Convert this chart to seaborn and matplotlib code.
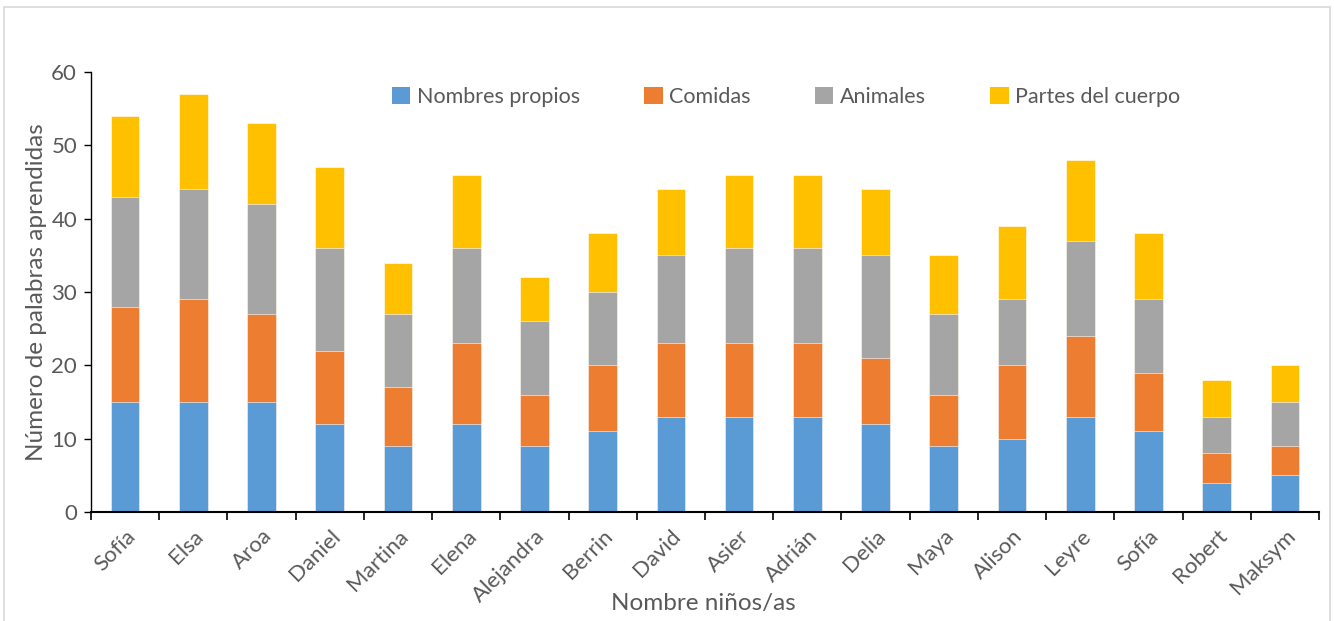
import matplotlib
matplotlib.use("Agg")
import matplotlib.pyplot as plt
from matplotlib.patches import Rectangle, Patch
import numpy as np
import pandas as pd
import seaborn as sns

ninos = ["Sofía", "Elsa", "Aroa", "Daniel", "Martina", "Elena", "Alejandra",
         "Berrin", "David", "Asier", "Adrián", "Delia", "Maya", "Alison",
         "Leyre", "Sofía ", "Robert", "Maksym"]
nombres_propios = [15, 15, 15, 12, 9, 12, 9, 11, 13, 13, 13, 12, 9, 10, 13, 11, 4, 5]
comidas = [13, 14, 12, 10, 8, 11, 7, 9, 10, 10, 10, 9, 7, 10, 11, 8, 4, 4]
animales = [15, 15, 15, 14, 10, 13, 10, 10, 12, 13, 13, 14, 11, 9, 13, 10, 5, 6]
partes_cuerpo = [11, 13, 11, 11, 7, 10, 6, 8, 9, 10, 10, 9, 8, 10, 11, 9, 5, 5]

series = ["Nombres propios", "Comidas", "Animales", "Partes del cuerpo"]
colores = ["#5B9BD5", "#ED7D31", "#A5A5A5", "#FFC000"]
valores = [nombres_propios, comidas, animales, partes_cuerpo]

sns.set_theme(style="white")
plt.rcParams["font.family"] = ["Lato", "DejaVu Sans"]
texto = "#595959"

fig = plt.figure(figsize=(13.34, 6.21), dpi=100)
ax = fig.add_axes([91 / 1334, 1 - 512 / 621, 1228 / 1334, 440 / 621])

# stacked bars: draw cumulative totals from the top segment down
acumulado = np.cumsum(np.array(valores), axis=0)
for i in range(len(series) - 1, -1, -1):
    df = pd.DataFrame({"nino": ninos, "total": acumulado[i]})
    sns.barplot(data=df, x="nino", y="total", color=colores[i], width=0.42,
                saturation=1, edgecolor="white", linewidth=0.4, ax=ax)

ax.set_xlim(-0.5, len(ninos) - 0.5)
ax.set_ylim(0, 60)
ax.set_yticks(range(0, 61, 10))
ax.tick_params(axis="y", labelsize=16, labelcolor=texto, length=5, width=1,
               direction="out", left=True, pad=5, color="black")
ax.set_xticks(range(len(ninos)))
ax.set_xticklabels([n.strip() for n in ninos], rotation=45, ha="right",
                   rotation_mode="anchor", fontsize=16, color=texto)
ax.tick_params(axis="x", which="major", length=0, pad=10)
ax.set_xticks(np.arange(-0.5, len(ninos), 1), minor=True)
ax.tick_params(axis="x", which="minor", length=6, width=1.2, color="black",
               direction="out", bottom=True)

for s in ["top", "right"]:
    ax.spines[s].set_visible(False)
ax.spines["left"].set_color("black")
ax.spines["left"].set_linewidth(1)
ax.spines["bottom"].set_color("black")
ax.spines["bottom"].set_linewidth(1.5)

ax.set_xlabel("Nombre niños/as", fontsize=17.5, color=texto)
ax.xaxis.set_label_coords(0.499, -81 / 440, transform=ax.transAxes)
ax.set_ylabel("Número de palabras aprendidas", fontsize=17.5, color=texto)
ax.yaxis.set_label_coords(-44 / 1228, 0.5, transform=ax.transAxes)

handles = [Patch(facecolor=c, edgecolor="none") for c in colores]
ax.legend(handles, series, loc="center", bbox_to_anchor=(0.566, 0.943), ncol=4,
          frameon=False, fontsize=15.5, handlelength=0.85, handleheight=0.85,
          handletextpad=0.3, columnspacing=3.0, labelcolor=texto)

fig.patches.append(Rectangle((4 / 1334, -0.01), 1326 / 1334, 1 - 7 / 621 + 0.01,
                             transform=fig.transFigure, fill=False,
                             edgecolor="#D9D9D9", linewidth=1.2))

fig.savefig("out.png", dpi=100)
